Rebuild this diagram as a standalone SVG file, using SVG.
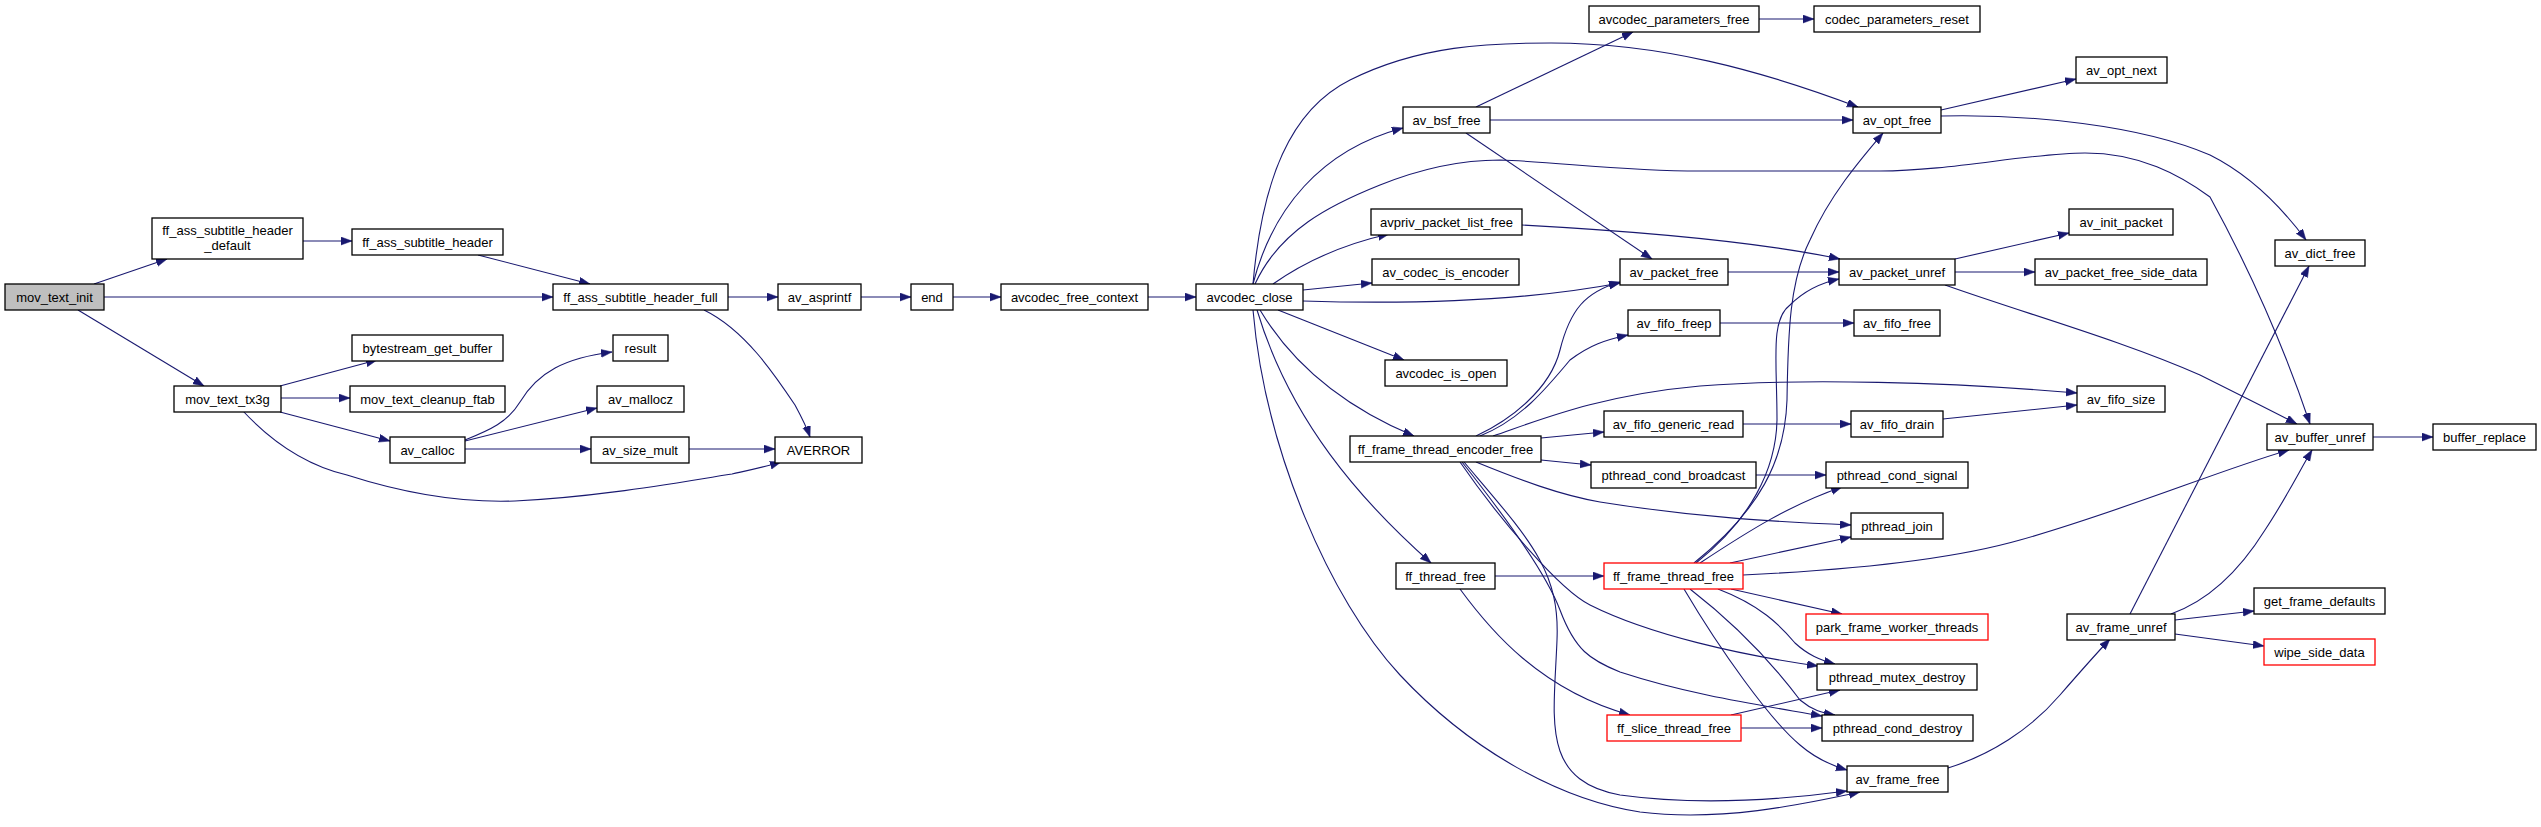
<svg xmlns="http://www.w3.org/2000/svg" width="2541" height="827" viewBox="0 0 2541 827">
<defs>
<marker id="ah" markerUnits="userSpaceOnUse" markerWidth="13" markerHeight="10" refX="11" refY="4" orient="auto"><path d="M0,0 L11,4 L0,8 z" fill="#191970" stroke="#191970" stroke-width="0.5"/></marker>
</defs>
<style>
.n rect{fill:#ffffff;stroke:#000000;stroke-width:1.3}
.n.r rect{stroke:#ff0000}
.n.g rect{fill:#bfbfbf}
.n text{font-family:"Liberation Sans",Arial,sans-serif;font-size:13px;fill:#000;text-anchor:middle}
#edges path{fill:none;stroke:#191970;stroke-width:1.1;marker-end:url(#ah)}
</style>
<rect x="0" y="0" width="2541" height="827" fill="#ffffff"/>
<g id="edges">
<path d="M94,284 L167,259"/>
<path d="M104,297 L553,297"/>
<path d="M78,310 L204,386"/>
<path d="M303,241 L352,241"/>
<path d="M478,255 L590,284"/>
<path d="M728,297 L778,297"/>
<path d="M704,310 C745,330 775,375 795,405 C802,418 807,428 810,437"/>
<path d="M280,386 L377,360"/>
<path d="M281,398 L350,398"/>
<path d="M280,412 L390,441"/>
<path d="M243,411 C270,440 305,465 347,475 C400,492 460,503 515,501 C600,497 680,482 732,474 C750,470 765,467 781,462"/>
<path d="M465,440 C490,430 508,422 520,402 C538,372 565,358 612,352"/>
<path d="M465,441 L597,408"/>
<path d="M465,449 L591,449"/>
<path d="M689,449 L775,449"/>
<path d="M861,297 L911,297"/>
<path d="M953,297 L1001,297"/>
<path d="M1148,297 L1196,297"/>
<path d="M1253,284 C1272,210 1320,150 1403,128"/>
<path d="M1253,284 C1262,180 1290,110 1350,80 C1420,45 1490,43 1551,43 C1660,43 1760,70 1858,107"/>
<path d="M1255,284 C1280,230 1330,205 1380,185 C1430,165 1470,160 1500,160 C1560,162 1620,171 1700,171 L1880,171 C1950,171 2030,153 2085,153 C2140,153 2180,175 2210,197 C2250,270 2285,350 2310,424"/>
<path d="M1273,284 C1300,265 1340,245 1389,234"/>
<path d="M1303,290 L1372,283"/>
<path d="M1303,301 C1400,304 1520,302 1620,283"/>
<path d="M1278,310 L1404,360"/>
<path d="M1260,310 C1290,360 1340,405 1414,436"/>
<path d="M1257,310 C1290,420 1360,500 1431,563"/>
<path d="M1253,310 C1265,450 1330,600 1400,675 C1470,750 1560,800 1640,812 C1720,822 1800,805 1860,792"/>
<path d="M1476,107 L1633,32"/>
<path d="M1490,120 L1853,120"/>
<path d="M1466,133 L1652,259"/>
<path d="M1759,19 L1814,19"/>
<path d="M1941,110 L2076,79"/>
<path d="M1941,116 C2030,114 2140,125 2210,155 C2250,175 2280,205 2306,240"/>
<path d="M1522,225 C1650,232 1760,242 1840,259"/>
<path d="M1728,272 L1839,272"/>
<path d="M1955,259 L2069,233"/>
<path d="M1955,272 L2035,272"/>
<path d="M1945,285 C2030,315 2120,340 2200,375 C2240,395 2270,410 2297,424"/>
<path d="M1476,436 C1510,420 1550,390 1560,350 C1570,310 1585,292 1620,282"/>
<path d="M1480,436 C1520,420 1545,390 1570,360 C1590,345 1605,340 1628,335"/>
<path d="M1493,436 C1540,420 1600,395 1700,386 C1800,378 1950,382 2077,393"/>
<path d="M1541,438 L1604,432"/>
<path d="M1541,460 L1591,465"/>
<path d="M1476,462 C1520,480 1560,495 1600,502 C1700,518 1780,522 1851,525"/>
<path d="M1460,462 C1500,520 1560,590 1590,605 C1650,635 1740,655 1818,666"/>
<path d="M1462,462 C1500,510 1545,570 1560,610 C1575,650 1590,660 1620,672 C1690,695 1760,705 1822,716"/>
<path d="M1464,462 C1530,540 1560,570 1557,640 C1554,720 1540,780 1620,795 C1700,806 1780,800 1847,791"/>
<path d="M1720,323 L1854,323"/>
<path d="M1743,424 L1851,424"/>
<path d="M1943,419 L2077,405"/>
<path d="M1756,475 L1826,475"/>
<path d="M1495,576 L1604,576"/>
<path d="M1460,589 C1490,630 1540,690 1630,715"/>
<path d="M1694,563 C1760,510 1785,460 1787,400 C1788,330 1790,280 1810,240 C1830,195 1860,160 1883,133"/>
<path d="M1696,563 C1750,520 1776,470 1777,420 C1777,360 1770,320 1790,305 C1805,290 1820,283 1839,279"/>
<path d="M1700,563 C1750,530 1790,505 1842,487"/>
<path d="M1730,563 L1851,537"/>
<path d="M1743,575 C1850,570 1950,560 2020,540 C2120,512 2220,470 2289,450"/>
<path d="M1731,589 L1842,614"/>
<path d="M1718,589 C1760,605 1780,625 1795,643 C1808,655 1820,660 1835,664"/>
<path d="M1690,589 C1730,620 1770,660 1800,700 C1812,710 1822,713 1835,715"/>
<path d="M1684,589 C1720,650 1770,720 1800,745 C1815,758 1830,765 1847,770"/>
<path d="M1731,715 L1840,690"/>
<path d="M1741,728 L1822,728"/>
<path d="M1948,768 C1990,755 2030,730 2060,695 C2080,672 2095,655 2110,639"/>
<path d="M2130,614 L2309,266"/>
<path d="M2171,614 C2210,600 2240,570 2265,530 C2285,500 2300,470 2312,450"/>
<path d="M2175,620 L2254,611"/>
<path d="M2175,634 L2264,646"/>
<path d="M2373,437 L2433,437"/>
</g>
<g id="mov_text_init" class="n g"><rect x="5" y="284" width="99" height="26"/><text x="54.5" y="301.5">mov_text_init</text></g>
<g id="ff_ass_subtitle_header_default" class="n"><rect x="152" y="218" width="151" height="41"/><text x="227.5" y="235">ff_ass_subtitle_header</text><text x="227.5" y="250">_default</text></g>
<g id="ff_ass_subtitle_header" class="n"><rect x="352" y="229" width="151" height="26"/><text x="427.5" y="246.5">ff_ass_subtitle_header</text></g>
<g id="ff_ass_subtitle_header_full" class="n"><rect x="553" y="284" width="175" height="26"/><text x="640.5" y="301.5">ff_ass_subtitle_header_full</text></g>
<g id="bytestream_get_buffer" class="n"><rect x="352" y="335" width="151" height="26"/><text x="427.5" y="352.5">bytestream_get_buffer</text></g>
<g id="mov_text_tx3g" class="n"><rect x="174" y="386" width="107" height="26"/><text x="227.5" y="403.5">mov_text_tx3g</text></g>
<g id="mov_text_cleanup_ftab" class="n"><rect x="350" y="386" width="155" height="26"/><text x="427.5" y="403.5">mov_text_cleanup_ftab</text></g>
<g id="av_calloc" class="n"><rect x="390" y="437" width="75" height="26"/><text x="427.5" y="454.5">av_calloc</text></g>
<g id="result" class="n"><rect x="613" y="335" width="55" height="26"/><text x="640.5" y="352.5">result</text></g>
<g id="av_mallocz" class="n"><rect x="597" y="386" width="87" height="26"/><text x="640.5" y="403.5">av_mallocz</text></g>
<g id="av_size_mult" class="n"><rect x="591" y="437" width="98" height="26"/><text x="640" y="454.5">av_size_mult</text></g>
<g id="AVERROR" class="n"><rect x="775" y="437" width="87" height="26"/><text x="818.5" y="454.5">AVERROR</text></g>
<g id="av_asprintf" class="n"><rect x="778" y="284" width="83" height="26"/><text x="819.5" y="301.5">av_asprintf</text></g>
<g id="end" class="n"><rect x="911" y="284" width="42" height="26"/><text x="932" y="301.5">end</text></g>
<g id="avcodec_free_context" class="n"><rect x="1001" y="284" width="147" height="26"/><text x="1074.5" y="301.5">avcodec_free_context</text></g>
<g id="avcodec_close" class="n"><rect x="1196" y="284" width="107" height="26"/><text x="1249.5" y="301.5">avcodec_close</text></g>
<g id="avcodec_parameters_free" class="n"><rect x="1589" y="6" width="170" height="26"/><text x="1674" y="23.5">avcodec_parameters_free</text></g>
<g id="codec_parameters_reset" class="n"><rect x="1814" y="6" width="166" height="26"/><text x="1897" y="23.5">codec_parameters_reset</text></g>
<g id="av_opt_next" class="n"><rect x="2076" y="57" width="91" height="26"/><text x="2121.5" y="74.5">av_opt_next</text></g>
<g id="av_bsf_free" class="n"><rect x="1403" y="107" width="87" height="26"/><text x="1446.5" y="124.5">av_bsf_free</text></g>
<g id="av_opt_free" class="n"><rect x="1853" y="107" width="88" height="26"/><text x="1897" y="124.5">av_opt_free</text></g>
<g id="avpriv_packet_list_free" class="n"><rect x="1371" y="209" width="151" height="26"/><text x="1446.5" y="226.5">avpriv_packet_list_free</text></g>
<g id="av_init_packet" class="n"><rect x="2069" y="209" width="104" height="26"/><text x="2121" y="226.5">av_init_packet</text></g>
<g id="av_dict_free" class="n"><rect x="2275" y="240" width="90" height="26"/><text x="2320" y="257.5">av_dict_free</text></g>
<g id="av_codec_is_encoder" class="n"><rect x="1372" y="259" width="147" height="26"/><text x="1445.5" y="276.5">av_codec_is_encoder</text></g>
<g id="av_packet_free" class="n"><rect x="1620" y="259" width="108" height="26"/><text x="1674" y="276.5">av_packet_free</text></g>
<g id="av_packet_unref" class="n"><rect x="1839" y="259" width="116" height="26"/><text x="1897" y="276.5">av_packet_unref</text></g>
<g id="av_packet_free_side_data" class="n"><rect x="2035" y="259" width="172" height="26"/><text x="2121" y="276.5">av_packet_free_side_data</text></g>
<g id="av_fifo_freep" class="n"><rect x="1628" y="310" width="92" height="26"/><text x="1674" y="327.5">av_fifo_freep</text></g>
<g id="av_fifo_free" class="n"><rect x="1854" y="310" width="86" height="26"/><text x="1897" y="327.5">av_fifo_free</text></g>
<g id="avcodec_is_open" class="n"><rect x="1385" y="360" width="122" height="26"/><text x="1446" y="377.5">avcodec_is_open</text></g>
<g id="av_fifo_size" class="n"><rect x="2077" y="386" width="88" height="26"/><text x="2121" y="403.5">av_fifo_size</text></g>
<g id="av_fifo_generic_read" class="n"><rect x="1604" y="411" width="139" height="26"/><text x="1673.5" y="428.5">av_fifo_generic_read</text></g>
<g id="av_fifo_drain" class="n"><rect x="1851" y="411" width="92" height="26"/><text x="1897" y="428.5">av_fifo_drain</text></g>
<g id="av_buffer_unref" class="n"><rect x="2267" y="424" width="106" height="26"/><text x="2320" y="441.5">av_buffer_unref</text></g>
<g id="buffer_replace" class="n"><rect x="2433" y="424" width="103" height="26"/><text x="2484.5" y="441.5">buffer_replace</text></g>
<g id="ff_frame_thread_encoder_free" class="n"><rect x="1350" y="436" width="191" height="26"/><text x="1445.5" y="453.5">ff_frame_thread_encoder_free</text></g>
<g id="pthread_cond_broadcast" class="n"><rect x="1591" y="462" width="165" height="26"/><text x="1673.5" y="479.5">pthread_cond_broadcast</text></g>
<g id="pthread_cond_signal" class="n"><rect x="1826" y="462" width="142" height="26"/><text x="1897" y="479.5">pthread_cond_signal</text></g>
<g id="pthread_join" class="n"><rect x="1851" y="513" width="92" height="26"/><text x="1897" y="530.5">pthread_join</text></g>
<g id="ff_thread_free" class="n"><rect x="1396" y="563" width="99" height="26"/><text x="1445.5" y="580.5">ff_thread_free</text></g>
<g id="ff_frame_thread_free" class="n r"><rect x="1604" y="563" width="139" height="26"/><text x="1673.5" y="580.5">ff_frame_thread_free</text></g>
<g id="get_frame_defaults" class="n"><rect x="2254" y="588" width="131" height="26"/><text x="2319.5" y="605.5">get_frame_defaults</text></g>
<g id="park_frame_worker_threads" class="n r"><rect x="1806" y="614" width="182" height="26"/><text x="1897" y="631.5">park_frame_worker_threads</text></g>
<g id="av_frame_unref" class="n"><rect x="2067" y="614" width="108" height="26"/><text x="2121" y="631.5">av_frame_unref</text></g>
<g id="wipe_side_data" class="n r"><rect x="2264" y="639" width="111" height="26"/><text x="2319.5" y="656.5">wipe_side_data</text></g>
<g id="pthread_mutex_destroy" class="n"><rect x="1817" y="664" width="160" height="26"/><text x="1897" y="681.5">pthread_mutex_destroy</text></g>
<g id="ff_slice_thread_free" class="n r"><rect x="1607" y="715" width="134" height="26"/><text x="1674" y="732.5">ff_slice_thread_free</text></g>
<g id="pthread_cond_destroy" class="n"><rect x="1822" y="715" width="151" height="26"/><text x="1897.5" y="732.5">pthread_cond_destroy</text></g>
<g id="av_frame_free" class="n"><rect x="1847" y="766" width="101" height="26"/><text x="1897.5" y="783.5">av_frame_free</text></g>
</svg>
